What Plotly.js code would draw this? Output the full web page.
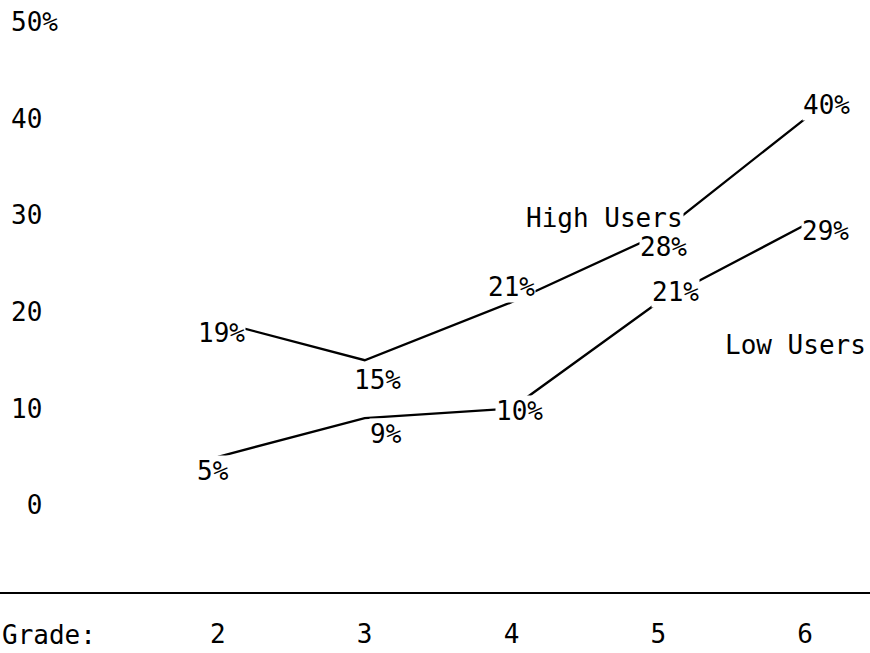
<!DOCTYPE html>
<html>
<head>
<meta charset="utf-8">
<script src="https://cdn.plot.ly/plotly-3.0.1.min.js"></script>
<style>html,body{margin:0;padding:0;background:#fff;}#chart{width:870px;height:653px;}</style>
</head>
<body>
<div id="chart"></div>
<script>
// Data
var grades = [2, 3, 4, 5, 6];
var highUsers = [19, 15, 21, 28, 40];
var lowUsers = [5, 9, 10, 21, 29];
var highLabels = ["19%", "15%", "21%", "28%", "40%"];
var lowLabels = ["5%", "9%", "10%", "21%", "29%"];
var yTickVals = [0, 10, 20, 30, 40, 50];
var yTickText = ["\u00a00", "10", "20", "30", "40", "50%"];
var xTickText = ["2", "3", "4", "5", "6"];
var seriesNames = ["High Users", "Low Users"];

var FONT = "DejaVu Sans Mono, monospace";
var fontStyle = {family: FONT, size: 26, color: "#000"};

// label offsets (pixels) relative to each point
var highShift = [[4, -11], [13, -20], [0, 15], [5, -12], [22, 14]];
var lowShift = [[-5, -14], [21, -16], [8, -2], [17, 10], [21, -6]];

var traces = [
  {x: grades, y: highUsers, mode: "lines", type: "scatter", name: seriesNames[0],
   line: {color: "#000", width: 2.3}, hoverinfo: "skip"},
  {x: grades, y: lowUsers, mode: "lines", type: "scatter", name: seriesNames[1],
   line: {color: "#000", width: 2.3}, hoverinfo: "skip"}
];

var annotations = [];
function addLabels(vals, labels, shifts) {
  for (var i = 0; i < grades.length; i++) {
    annotations.push({
      x: grades[i], y: vals[i], xref: "x", yref: "y", text: labels[i],
      showarrow: false, font: fontStyle, bgcolor: "#fff", borderpad: 0,
      xshift: shifts[i][0], yshift: shifts[i][1]
    });
  }
}
addLabels(highUsers, highLabels, highShift);
addLabels(lowUsers, lowLabels, lowShift);

// series name labels
annotations.push({x: grades[3], y: highUsers[3], xref: "x", yref: "y", text: seriesNames[0],
  showarrow: false, font: fontStyle, bgcolor: "#fff", borderpad: 0, xshift: -54, yshift: 17});
annotations.push({x: grades[4], y: lowUsers[4], xref: "x", yref: "y", text: seriesNames[1],
  showarrow: false, font: fontStyle, borderpad: 0, xshift: -9, yshift: -120});
// axis caption
annotations.push({x: 0, y: 0, xref: "paper", yref: "paper", text: "Grade:",
  xanchor: "left", yanchor: "top", showarrow: false, font: fontStyle, xshift: 0, yshift: -26});

var layout = {
  width: 870, height: 653,
  margin: {l: 0, r: 0, t: 0, b: 61},
  paper_bgcolor: "#fff", plot_bgcolor: "#fff",
  showlegend: false,
  font: fontStyle,
  xaxis: {
    range: [0.515, 6.443], tickvals: grades, ticktext: xTickText,
    showgrid: false, zeroline: false, showline: true, linecolor: "#000", linewidth: 2,
    ticks: "", ticklabelstandoff: 18, tickfont: fontStyle, fixedrange: true
  },
  yaxis: {
    range: [-9.0, 52.3], tickvals: yTickVals, ticktext: yTickText,
    showgrid: false, zeroline: false, showline: false, ticks: "",
    ticklabelposition: "inside", ticklabelstandoff: 8, tickfont: fontStyle, fixedrange: true
  },
  annotations: annotations
};

Plotly.newPlot("chart", traces, layout, {displayModeBar: false, staticPlot: true});
</script>
</body>
</html>
